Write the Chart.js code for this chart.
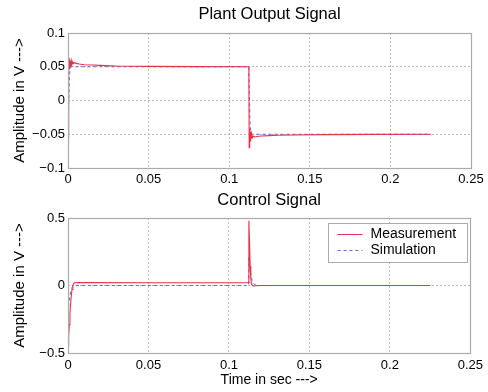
<!DOCTYPE html>
<html><head><meta charset="utf-8">
<script src="https://cdn.jsdelivr.net/npm/chart.js@4"></script>
<style>
html,body{margin:0;padding:0;background:#fff;}
#wrap{position:relative;width:488px;height:392px;overflow:hidden;}
#c1{position:absolute;left:0;top:0;}
#c2{position:absolute;left:0;top:188px;}
</style></head><body>
<div id="wrap"><canvas id="c1" width="488" height="188"></canvas><canvas id="c2" width="488" height="204"></canvas></div>
<script>
// ---- data ----
const outMeasT = [0, 0.0004, 0.0007, 0.001, 0.0013, 0.0016, 0.0019, 0.0022, 0.0026, 0.003, 0.0035, 0.004, 0.005, 0.007, 0.01, 0.015, 0.02, 0.03, 0.05, 0.08, 0.1122, 0.1124, 0.1127, 0.113, 0.1133, 0.1136, 0.114, 0.1145, 0.115, 0.116, 0.118, 0.12, 0.125, 0.13, 0.14, 0.16, 0.19, 0.225];
const outMeas  = [-0.055, 0.064, 0.047, 0.062, 0.05, 0.059, 0.052, 0.058, 0.054, 0.057, 0.055, 0.056, 0.055, 0.054, 0.053, 0.0525, 0.052, 0.051, 0.0505, 0.0502, 0.05, -0.07, -0.042, -0.06, -0.046, -0.056, -0.05, -0.055, -0.053, -0.054, -0.053, -0.0525, -0.052, -0.0515, -0.051, -0.0505, -0.0502, -0.05];
const outSimT  = [0, 0.0004, 0.0008, 0.0012, 0.002, 0.004, 0.05, 0.1122, 0.1125, 0.1129, 0.1133, 0.114, 0.12, 0.225];
const outSim   = [-0.05, -0.01, 0.03, 0.046, 0.05, 0.05, 0.05, 0.05, 0.01, -0.03, -0.046, -0.05, -0.05, -0.05];
const ctrlMeasT = [0, 0.0004, 0.0008, 0.0012, 0.0016, 0.002, 0.0025, 0.003, 0.0035, 0.004, 0.006, 0.01, 0.05, 0.1, 0.1122, 0.1124, 0.1128, 0.1132, 0.1136, 0.114, 0.115, 0.117, 0.12, 0.15, 0.225];
const ctrlMeas  = [-0.45, -0.38, -0.29, -0.21, -0.14, -0.08, -0.03, 0.0, 0.015, 0.02, 0.022, 0.021, 0.02, 0.02, 0.02, 0.48, 0.32, 0.14, 0.05, 0.01, -0.004, -0.002, 0.0, 0.0, 0.0];
const ctrlSimT  = [0, 0.0005, 0.001, 0.0015, 0.002, 0.0025, 0.003, 0.004, 0.1122, 0.1124, 0.1128, 0.1133, 0.1138, 0.1145, 0.1155, 0.117, 0.225];
const ctrlSim   = [-0.2, -0.14, -0.09, -0.055, -0.03, -0.015, -0.006, 0, 0, 0.21, 0.15, 0.1, 0.065, 0.035, 0.012, 0, 0];

const xTickLabels = ['0', '0.05', '0.1', '0.15', '0.2', '0.25'];
const yTopTickLabels = ['\u22120.1', '\u22120.05', '0', '0.05', '0.1'];
const yBotTickLabels = ['\u22120.5', '0', '0.5'];
const seriesNames = ['Measurement', 'Simulation'];
const titles = ['Plant Output Signal', 'Control Signal'];
const xTitle = 'Time in sec --->';
const yTitle = 'Amplitude in V --->';

// ---- styling ----
const RED = '#ea3048', BLUE = '#6464d2', GRID = '#b8b8b8', FRAME = '#ababab';
Chart.defaults.font.family = '"Liberation Sans", Arial, Helvetica, sans-serif';
Chart.defaults.color = '#000';

function pts(t, v) { return t.map((x, i) => ({x: x, y: v[i]})); }
function labelFor(list) {
  return function (value) {
    for (const s of list) { if (Math.abs(parseFloat(s.replace('\u2212', '-')) - value) < 1e-9) return s; }
    return '';
  };
}

const framePlugin = {
  id: 'frame',
  afterDatasetsDraw(chart) {
    const {ctx, chartArea: a} = chart;
    ctx.save();
    ctx.strokeStyle = FRAME; ctx.lineWidth = 1.2; ctx.setLineDash([]);
    ctx.strokeRect(Math.round(a.left) + 0.5, Math.round(a.top) + 0.5, Math.round(a.right - a.left), Math.round(a.bottom - a.top));
    ctx.restore();
  }
};

const legendPlugin = {
  id: 'boxLegend',
  afterDraw(chart) {
    const {ctx} = chart;
    const bx = 328.5, by = 35.5, bw = 139, bh = 39;
    ctx.save();
    ctx.fillStyle = '#fff';
    ctx.fillRect(bx, by, bw, bh);
    ctx.strokeStyle = FRAME; ctx.lineWidth = 1;
    ctx.strokeRect(bx, by, bw, bh);
    chart.data.datasets.forEach((ds, i) => {
      const y = by + 10 + i * 16;
      ctx.strokeStyle = ds.borderColor;
      ctx.setLineDash(ds.borderDash || []);
      ctx.beginPath(); ctx.moveTo(bx + 9, Math.round(y) + 0.5); ctx.lineTo(bx + 34, Math.round(y) + 0.5); ctx.stroke();
      ctx.setLineDash([]);
      ctx.fillStyle = '#000';
      ctx.font = '14px "Liberation Sans", Arial, sans-serif';
      ctx.textBaseline = 'middle';
      ctx.textAlign = 'left';
      ctx.fillText(ds.label, bx + 42, y + 1);
    });
    ctx.restore();
  }
};

function makeChart(id, cfg) {
  const datasets = [
    {label: seriesNames[0], data: pts(cfg.mT, cfg.m), borderColor: RED, borderWidth: 1.1, pointRadius: 0, tension: 0, fill: false},
    {label: seriesNames[1], data: pts(cfg.sT, cfg.s), borderColor: BLUE, borderWidth: 1, borderDash: [3, 3], pointRadius: 0, tension: 0, fill: false}
  ];
  return new Chart(document.getElementById(id), {
    type: 'line',
    data: {datasets: datasets},
    options: {
      responsive: false, animation: false, devicePixelRatio: 1,
      layout: {padding: {left: 0, right: 17, top: 0, bottom: 0}},
      plugins: {
        legend: {display: false},
        tooltip: {enabled: false},
        title: {display: true, text: cfg.title, fullSize: false, font: {size: 16.5, weight: 'normal'}, color: '#000',
                padding: cfg.titlePad}
      },
      scales: {
        x: {
          type: 'linear', min: 0, max: 0.25,
          grid: {color: GRID, lineWidth: 1, drawTicks: false},
          border: {display: false, dash: [2, 2]},
          ticks: {stepSize: 0.05, autoSkip: false, maxRotation: 0, padding: cfg.xPad, font: {size: 13}, callback: labelFor(xTickLabels)},
          title: cfg.xTitle ? {display: true, text: xTitle, font: {size: 14}, padding: {top: 0, bottom: cfg.xTitlePad}} : {display: false},
          afterFit(scale) { scale.height = cfg.xH; }
        },
        y: {
          type: 'linear', min: cfg.yMin, max: cfg.yMax,
          grid: {color: GRID, lineWidth: 1, drawTicks: false},
          border: {display: false, dash: [2, 2]},
          ticks: {stepSize: cfg.yStep, autoSkip: false, padding: 3, font: {size: 13}, callback: labelFor(cfg.yLabels)},
          title: {display: true, text: yTitle, font: {size: 15}, padding: {top: 11, bottom: 0}},
          afterFit(scale) { scale.width = 68; }
        }
      }
    },
    plugins: cfg.legend ? [framePlugin, legendPlugin] : [framePlugin]
  });
}

makeChart('c1', {mT: outMeasT, m: outMeas, sT: outSimT, s: outSim, title: titles[0], titlePad: {top: 5, bottom: 8.2},
  xPad: 4, xH: 20, xTitle: false, yMin: -0.1, yMax: 0.1, yStep: 0.05, yLabels: yTopTickLabels, legend: false});
makeChart('c2', {mT: ctrlMeasT, m: ctrlMeas, sT: ctrlSimT, s: ctrlSim, title: titles[1], titlePad: {top: 3, bottom: 7.2},
  xPad: 5, xH: 39, xTitle: true, xTitlePad: 3.6, yMin: -0.5, yMax: 0.5, yStep: 0.5, yLabels: yBotTickLabels, legend: true});
</script>
</body></html>
